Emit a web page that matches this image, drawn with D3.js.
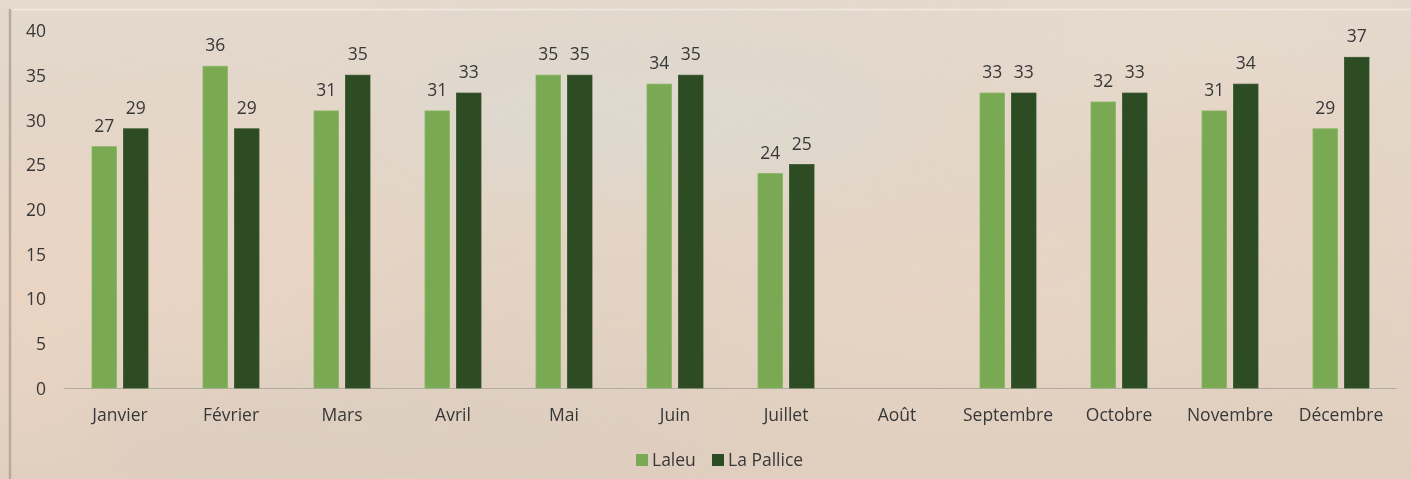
<!DOCTYPE html>
<html><head><meta charset="utf-8">
<script src="https://cdn.jsdelivr.net/npm/d3@7"></script>
<style>html,body{margin:0;padding:0;background:#e3d5c7;}svg{display:block;}</style>
</head><body>
<svg id="chart" width="1411" height="479"></svg>
<script>
const months = ["Janvier","Février","Mars","Avril","Mai","Juin","Juillet","Août","Septembre","Octobre","Novembre","Décembre"];
const laleu = [27,36,31,31,35,34,24,null,33,32,31,29];
const laPallice = [29,29,35,33,35,35,25,null,33,33,34,37];
const seriesNames = ["Laleu","La Pallice"];
const seriesColors = ["#7aa954","#2d4c24"];
const yTicks = [0,5,10,15,20,25,30,35,40];

const W = 1411, H = 479;
const svg = d3.select("#chart");
const defs = svg.append("defs");
const font = "'Open Sans', sans-serif";
const fs = "17.5px";
const textColor = "#383838";

// background parchment
const bg = defs.append("linearGradient").attr("id","bg").attr("x1",0).attr("y1",0).attr("x2",0).attr("y2",1);
bg.append("stop").attr("offset","0%").attr("stop-color","#e3d9cd");
bg.append("stop").attr("offset","50%").attr("stop-color","#e4d4c5");
bg.append("stop").attr("offset","100%").attr("stop-color","#e0cfbf");
svg.append("rect").attr("width",W).attr("height",H).attr("fill","url(#bg)");
const blur = defs.append("filter").attr("id","blur").attr("x","-50%").attr("y","-50%").attr("width","200%").attr("height","200%");
blur.append("feGaussianBlur").attr("stdDeviation",40);
const blobs = [[650,120,260,60,"#dcdad2",0.7],[200,250,160,120,"#ebd5c4",0.6],[1000,300,250,90,"#e9d5c6",0.5],[1250,200,140,120,"#e8d2c1",0.5],[400,430,300,50,"#d9cdc0",0.5],[30,300,60,150,"#eed6c3",0.6],[1200,50,200,40,"#e8dccf",0.6]];
svg.append("g").attr("filter","url(#blur)").selectAll("ellipse").data(blobs).join("ellipse")
  .attr("cx",d=>d[0]).attr("cy",d=>d[1]).attr("rx",d=>d[2]).attr("ry",d=>d[3]).attr("fill",d=>d[4]).attr("opacity",d=>d[5]);
// frame lines
svg.append("line").attr("x1",10).attr("x2",W).attr("y1",9.5).attr("y2",9.5).attr("stroke","#f1ebe4").attr("stroke-width",1.5);
svg.append("line").attr("x1",10).attr("x2",10).attr("y1",9).attr("y2",H).attr("stroke","#b7ab9f").attr("stroke-width",2.5);

const x0 = 64.5, x1 = 1396.5, yBase = 388, yTop = 30.5;
const x = d3.scaleBand().domain(months).range([x0,x1]).paddingInner(0).paddingOuter(0);
const y = d3.scaleLinear().domain([0,40]).range([yBase,yTop]);
const barW = 24.5, gap = 7;
const xs = d3.scalePoint().domain(seriesNames).range([-(barW+gap)/2, (barW+gap)/2]);

// baseline
svg.append("line").attr("x1",x0).attr("x2",x1).attr("y1",yBase+0.5).attr("y2",yBase+0.5).attr("stroke","#b3aca4").attr("stroke-width",1);

// y axis
const yAxis = d3.axisLeft(y).tickValues(yTicks).tickSize(0).tickPadding(0);
const gy = svg.append("g").attr("transform","translate(46,0)").call(yAxis);
gy.select(".domain").remove();
gy.selectAll("text").attr("font-family",font).attr("font-size",fs).attr("fill",textColor).attr("dy","0.35em");

// x axis
const xAxis = d3.axisBottom(x).tickSize(0).tickPadding(0);
const gx = svg.append("g").attr("transform",`translate(0,${yBase})`).call(xAxis);
gx.select(".domain").remove();
gx.selectAll("text").attr("font-family",font).attr("font-size",fs).attr("fill",textColor).attr("y",33).attr("dy","0");

// bars
const series = [laleu, laPallice];
series.forEach((vals,si)=>{
  const name = seriesNames[si];
  const data = months.map((m,i)=>({m, v: vals[i]})).filter(d=>d.v!=null);
  const g = svg.append("g");
  g.selectAll("rect").data(data).join("rect")
    .attr("x",d=>x(d.m)+x.bandwidth()/2 + xs(name) - barW/2)
    .attr("y",d=>y(d.v))
    .attr("width",barW)
    .attr("height",d=>yBase - y(d.v))
    .attr("fill",seriesColors[si])
    .attr("stroke",si===0?"#86b65f":"#33542a").attr("stroke-width",0.8);
  g.selectAll("text").data(data).join("text")
    .attr("x",d=>x(d.m)+x.bandwidth()/2 + xs(name))
    .attr("y",d=>y(d.v)-15)
    .attr("text-anchor","middle")
    .attr("font-family",font).attr("font-size",fs).attr("fill",textColor)
    .text(d=>d.v);
});

// legend
const legendX = [636, 712];
const lg = svg.append("g");
seriesNames.forEach((n,i)=>{
  lg.append("rect").attr("x",legendX[i]).attr("y",454).attr("width",12).attr("height",12).attr("fill",seriesColors[i]);
  lg.append("text").attr("x",legendX[i]+16).attr("y",466).attr("font-family",font).attr("font-size",fs).attr("fill",textColor).text(n);
});
</script>
</body></html>
